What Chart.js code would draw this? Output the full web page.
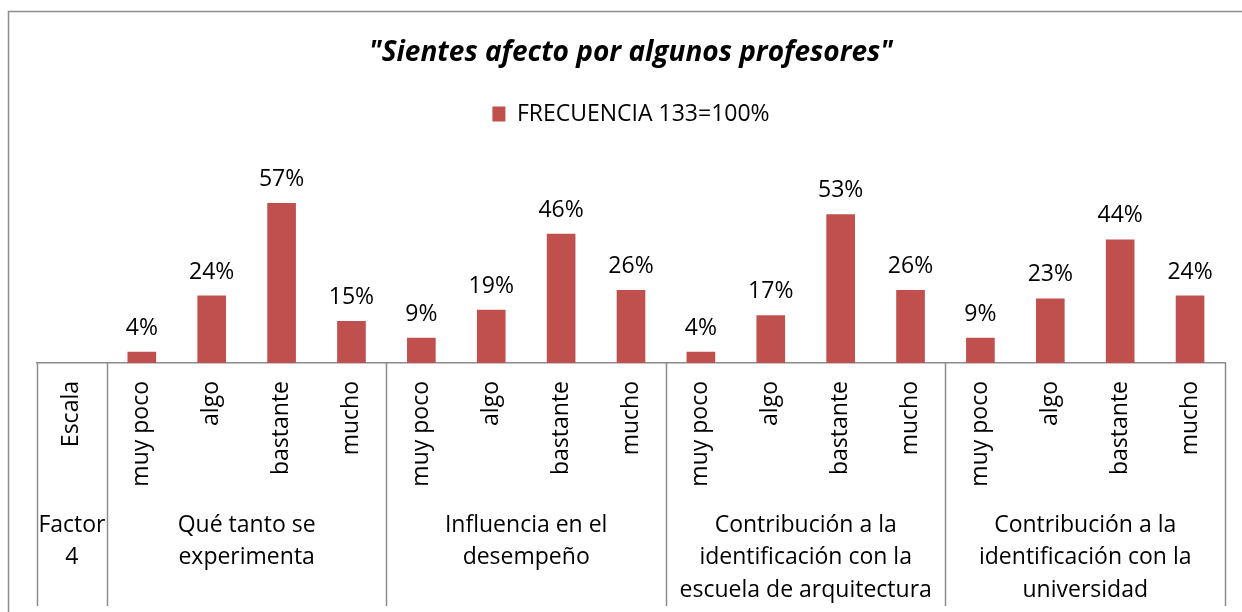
<!DOCTYPE html>
<html>
<head>
<meta charset="utf-8">
<script src="https://cdn.jsdelivr.net/npm/chart.js@4.4.1/dist/chart.umd.min.js"></script>
<style>
  body { margin: 0; background: #fff; }
  #wrap { width: 1242px; height: 612px; }
</style>
</head>
<body>
<div id="wrap"><canvas id="chart1" width="1242" height="612"></canvas></div>
<script>
const escalas = ["Escala", "muy poco", "algo", "bastante", "mucho", "muy poco", "algo", "bastante", "mucho",
                 "muy poco", "algo", "bastante", "mucho", "muy poco", "algo", "bastante", "mucho"];
const frecuencia = [null, 4, 24, 57, 15, 9, 19, 46, 26, 4, 17, 53, 26, 9, 23, 44, 24];
const factores = [
  ["Factor", "4"],
  ["Qué tanto se", "experimenta"],
  ["Influencia en el", "desempeño"],
  ["Contribución a la", "identificación con la", "escuela de arquitectura"],
  ["Contribución a la", "identificación con la", "universidad"]
];
const factorSpan = [[0, 0], [1, 4], [5, 8], [9, 12], [13, 16]];

const fontFam = "'Open Sans', sans-serif";
const lineGrey = "#8c8c8c";

// frame + multi level axis + value labels
const extras = {
  id: "extras",
  beforeDraw(chart) {
    const c = chart.ctx;
    c.save();
    c.fillStyle = "#fff";
    c.fillRect(0, 0, chart.width, chart.height);
    c.strokeStyle = lineGrey;
    c.lineWidth = 1.5;
    c.beginPath();
    c.moveTo(8.5, chart.height + 5);
    c.lineTo(8.5, 11.5);
    c.lineTo(chart.width + 5, 11.5);
    c.stroke();
    c.restore();
  },
  afterDraw(chart) {
    const c = chart.ctx;
    const x = chart.scales.x;
    const bottom = chart.chartArea.bottom;
    const edge = (i) => {
      if (i < 0) return x.left;
      if (i >= escalas.length - 1) return x.right;
      return (x.getPixelForValue(i) + x.getPixelForValue(i + 1)) / 2;
    };
    c.save();
    c.strokeStyle = lineGrey;
    c.lineWidth = 1.5;
    const cuts = [-1];
    factorSpan.forEach(s => cuts.push(s[1]));
    cuts.forEach(i => {
      const px = Math.round(edge(i)) + 0.5;
      c.beginPath();
      c.moveTo(px, bottom);
      c.lineTo(px, 606);
      c.stroke();
    });
    c.fillStyle = "#000";
    c.font = "23px " + fontFam;
    c.textAlign = "center";
    c.textBaseline = "middle";
    factores.forEach((lines, k) => {
      const cx = (edge(factorSpan[k][0] - 1) + edge(factorSpan[k][1])) / 2;
      lines.forEach((t, j) => c.fillText(t, cx, 525 + j * 32.5));
    });
    // value labels above bars
    const meta = chart.getDatasetMeta(0);
    c.textBaseline = "alphabetic";
    meta.data.forEach((bar, i) => {
      const v = frecuencia[i];
      if (v === null) return;
      c.fillText(v + "%", bar.x, bar.y - 17);
    });
    c.restore();
  }
};

const ctx = document.getElementById("chart1");

new Chart(ctx, {
  type: "bar",
  data: {
    labels: escalas,
    datasets: [{
      label: "FRECUENCIA 133=100%",
      data: frecuencia,
      backgroundColor: "#C0504D",
      categoryPercentage: 1,
      barPercentage: 0.41
    }]
  },
  options: {
    responsive: false,
    animation: false,
    layout: { padding: { left: 37, right: 17, top: 0, bottom: 0 } },
    plugins: {
      title: {
        display: true,
        text: "\"Sientes afecto por algunos profesores\"",
        color: "#000",
        font: { family: fontFam, size: 28, style: "italic", weight: "bold", lineHeight: 1.2 },
        padding: { top: 36, bottom: 23 }
      },
      legend: {
        display: true,
        labels: {
          color: "#000",
          font: { family: fontFam, size: 23 },
          boxWidth: 13,
          boxHeight: 15,
          padding: 10
        }
      },
      tooltip: { enabled: false }
    },
    scales: {
      x: {
        grid: { display: false, drawTicks: false },
        border: { display: true, color: lineGrey, width: 1.5 },
        ticks: {
          color: "#000",
          font: { family: fontFam, size: 23 },
          autoSkip: false,
          minRotation: 90,
          maxRotation: 90,
          padding: 18
        },
        afterFit(scale) { scale.height = 249; }
      },
      y: {
        display: false,
        min: 0,
        max: 81
      }
    }
  },
  plugins: [extras]
});
</script>
</body>
</html>
